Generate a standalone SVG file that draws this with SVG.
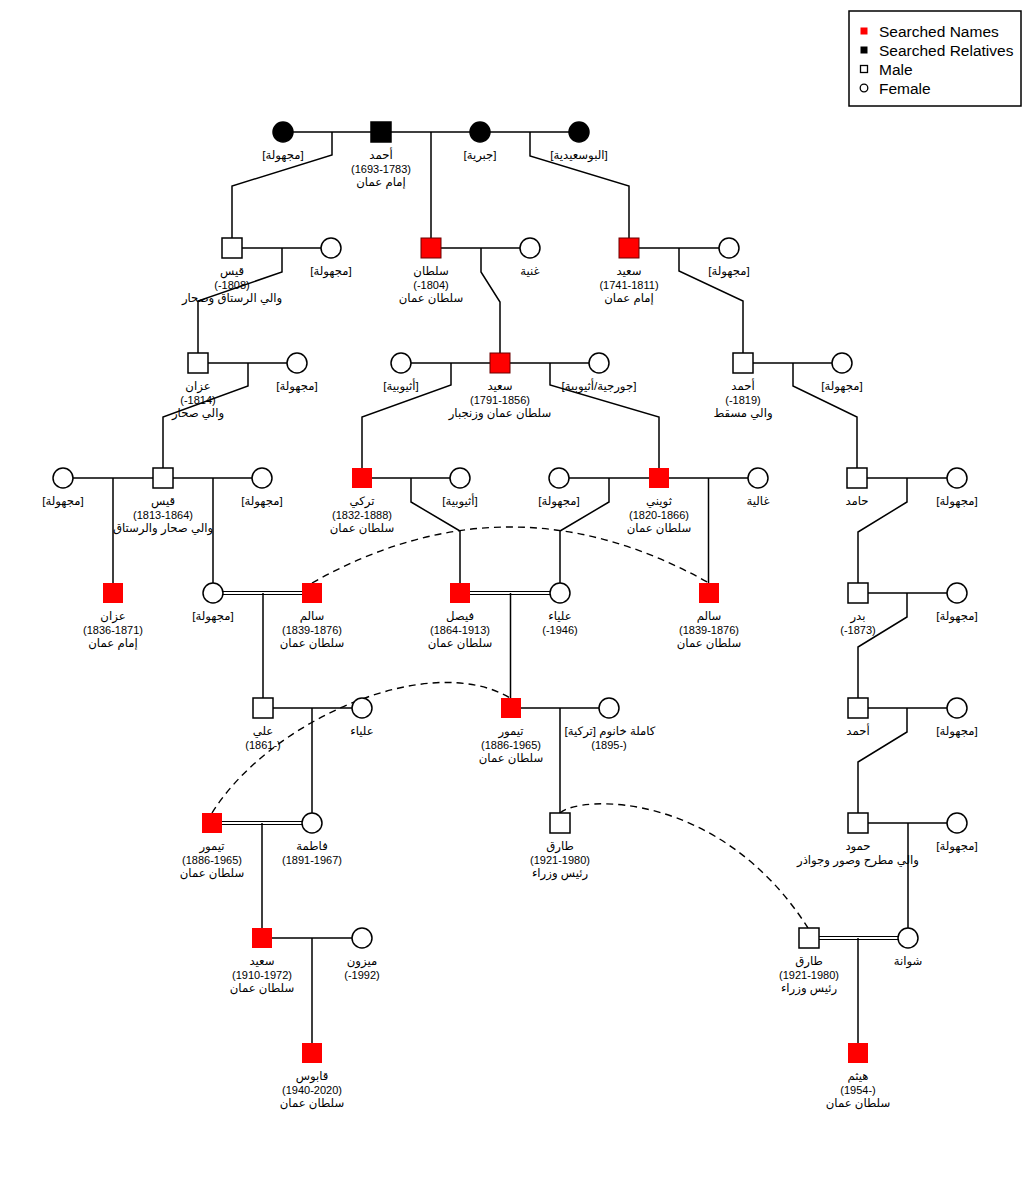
<svg xmlns="http://www.w3.org/2000/svg" width="1022" height="1200" viewBox="0 0 1022 1200">
<style>
.ln{fill:none;stroke:#000;stroke-width:1.5}
.dbl{fill:none;stroke:#000;stroke-width:1.2}
.dash{fill:none;stroke:#000;stroke-width:1.4;stroke-dasharray:7,5}
.m{fill:#fff;stroke:#000;stroke-width:1.5}
.f{fill:#fff;stroke:#000;stroke-width:1.5}
.b{fill:#000;stroke:#000;stroke-width:1.5}
.r{fill:#f00;stroke:none}
.rb{fill:#f00;stroke:#6a0000;stroke-width:1}
text{font-family:"Liberation Sans","DejaVu Sans",sans-serif;font-size:11.7px;fill:#000;text-anchor:middle}
text.d{font-size:11px}
.lg{font-size:15.5px;text-anchor:start}
</style>
<rect width="1022" height="1200" fill="#fff"/>
<g id="connectors">
<path class="ln" d="M283,132H579 M232,248H331 M431,248H530 M629,248H729 M198,363H297 M401,363H599 M743,363H842 M63,478H262 M362,478H460 M559,478H758 M857,478H957 M858,593H957 M263,708H362 M511,708H609 M858,708H957 M858,823H957 M262,938H362"/>
<path class="dbl" d="M213,591.5H312 M213,594.5H312 M460,591.5H560 M460,594.5H560 M212,821.5H312 M212,824.5H312 M809,936.5H908 M809,939.5H908"/>
<path class="ln" d="M332,132V155L232,186V238 M431,132V238 M530,132V156L629,186V238 M282,248V272L198,301V353 M481,248V272L500,302V353 M679,248V271L743,301V353 M248,363V386L163,417V468 M451,363V385L362,417V468 M550,363V385L659,417V468 M793,363V386L857,417V468 M113,478V583 M213,478V583 M411,478V502L460,531V583 M609,478V502L560,531V583 M708.5,478V583 M907,478V502L858,532V583 M263,593V698 M510.5,593V698 M907,593V617L858,647V698 M312,708V813 M560,708V813 M907,708V732L858,762V813 M262,823V928 M908,823V928 M312,938V1043 M858,938V1043"/>
<path class="dash" d="M312,583Q510,471 709,583"/>
<path class="dash" d="M212,813C270,720 430,650 510,698"/>
<path class="dash" d="M560,813C580,795 720,790 808,928"/>
</g>
<g id="n_f_majhula_1"><circle class="b" cx="283" cy="132" r="10"/><text x="283" y="159">[مجهولة]</text></g>
<g id="n_ahmad_1693"><rect class="b" x="371" y="122" width="20" height="20"/><text x="381" y="159">أحمد</text><text class="d" x="381" y="172.5">(1693-1783)</text><text x="381" y="186">إمام عمان</text></g>
<g id="n_f_jabria"><circle class="b" cx="480" cy="132" r="10"/><text x="480" y="159">[جبرية]</text></g>
<g id="n_f_busaidia"><circle class="b" cx="579" cy="132" r="10"/><text x="579" y="159">[البوسعيدية]</text></g>

<g id="n_qais_1808"><rect class="m" x="222" y="238" width="20" height="20"/><text x="232" y="275">قيس</text><text class="d" x="232" y="288.5">(-1808)</text><text x="232" y="302">والي الرستاق وصحار</text></g>
<g id="n_f_majhula_2"><circle class="f" cx="331" cy="248" r="10"/><text x="331" y="275">[مجهولة]</text></g>
<g id="n_sultan_1804"><rect class="rb" x="421" y="238" width="20" height="20"/><text x="431" y="275">سلطان</text><text class="d" x="431" y="288.5">(-1804)</text><text x="431" y="302">سلطان عمان</text></g>
<g id="n_f_ghania"><circle class="f" cx="530" cy="248" r="10"/><text x="530" y="275">غنية</text></g>
<g id="n_said_1741"><rect class="rb" x="619" y="238" width="20" height="20"/><text x="629" y="275">سعيد</text><text class="d" x="629" y="288.5">(1741-1811)</text><text x="629" y="302">إمام عمان</text></g>
<g id="n_f_majhula_3"><circle class="f" cx="729" cy="248" r="10"/><text x="729" y="275">[مجهولة]</text></g>

<g id="n_azzan_1814"><rect class="m" x="188" y="353" width="20" height="20"/><text x="198" y="390">عزان</text><text class="d" x="198" y="403.5">(-1814)</text><text x="198" y="417">والي صحار</text></g>
<g id="n_f_majhula_4"><circle class="f" cx="297" cy="363" r="10"/><text x="297" y="390">[مجهولة]</text></g>
<g id="n_f_ethiopian_1"><circle class="f" cx="401" cy="363" r="10"/><text x="401" y="390">[أثيوبية]</text></g>
<g id="n_said_1791"><rect class="rb" x="490" y="353" width="20" height="20"/><text x="500" y="390">سعيد</text><text class="d" x="500" y="403.5">(1791-1856)</text><text x="500" y="417">سلطان عمان وزنجبار</text></g>
<g id="n_f_georgian"><circle class="f" cx="599" cy="363" r="10"/><text x="599" y="390">[جورجية/أثيوبية]</text></g>
<g id="n_ahmad_1819"><rect class="m" x="733" y="353" width="20" height="20"/><text x="743" y="390">أحمد</text><text class="d" x="743" y="403.5">(-1819)</text><text x="743" y="417">والي مسقط</text></g>
<g id="n_f_majhula_5"><circle class="f" cx="842" cy="363" r="10"/><text x="842" y="390">[مجهولة]</text></g>

<g id="n_f_majhula_6"><circle class="f" cx="63" cy="478" r="10"/><text x="63" y="505">[مجهولة]</text></g>
<g id="n_qais_1813"><rect class="m" x="153" y="468" width="20" height="20"/><text x="163" y="505">قيس</text><text class="d" x="163" y="518.5">(1813-1864)</text><text x="163" y="532">والي صحار والرستاق</text></g>
<g id="n_f_majhula_7"><circle class="f" cx="262" cy="478" r="10"/><text x="262" y="505">[مجهولة]</text></g>
<g id="n_turki"><rect class="r" x="352" y="468" width="20" height="20"/><text x="362" y="505">تركي</text><text class="d" x="362" y="518.5">(1832-1888)</text><text x="362" y="532">سلطان عمان</text></g>
<g id="n_f_ethiopian_2"><circle class="f" cx="460" cy="478" r="10"/><text x="460" y="505">[أثيوبية]</text></g>
<g id="n_f_majhula_8"><circle class="f" cx="559" cy="478" r="10"/><text x="559" y="505">[مجهولة]</text></g>
<g id="n_thuwaini"><rect class="r" x="649" y="468" width="20" height="20"/><text x="659" y="505">ثويني</text><text class="d" x="659" y="518.5">(1820-1866)</text><text x="659" y="532">سلطان عمان</text></g>
<g id="n_f_ghalia"><circle class="f" cx="758" cy="478" r="10"/><text x="758" y="505">غالية</text></g>
<g id="n_hamid"><rect class="m" x="847" y="468" width="20" height="20"/><text x="857" y="505">حامد</text></g>
<g id="n_f_majhula_9"><circle class="f" cx="957" cy="478" r="10"/><text x="957" y="505">[مجهولة]</text></g>

<g id="n_azzan_1836"><rect class="r" x="103" y="583" width="20" height="20"/><text x="113" y="620">عزان</text><text class="d" x="113" y="633.5">(1836-1871)</text><text x="113" y="647">إمام عمان</text></g>
<g id="n_f_majhula_10"><circle class="f" cx="213" cy="593" r="10"/><text x="213" y="620">[مجهولة]</text></g>
<g id="n_salim_1"><rect class="r" x="302" y="583" width="20" height="20"/><text x="312" y="620">سالم</text><text class="d" x="312" y="633.5">(1839-1876)</text><text x="312" y="647">سلطان عمان</text></g>
<g id="n_faisal"><rect class="r" x="450" y="583" width="20" height="20"/><text x="460" y="620">فيصل</text><text class="d" x="460" y="633.5">(1864-1913)</text><text x="460" y="647">سلطان عمان</text></g>
<g id="n_f_alia_1946"><circle class="f" cx="560" cy="593" r="10"/><text x="560" y="620">علياء</text><text class="d" x="560" y="633.5">(-1946)</text></g>
<g id="n_salim_2"><rect class="r" x="699" y="583" width="20" height="20"/><text x="709" y="620">سالم</text><text class="d" x="709" y="633.5">(1839-1876)</text><text x="709" y="647">سلطان عمان</text></g>
<g id="n_badr"><rect class="m" x="848" y="583" width="20" height="20"/><text x="858" y="620">بدر</text><text class="d" x="858" y="633.5">(-1873)</text></g>
<g id="n_f_majhula_11"><circle class="f" cx="957" cy="593" r="10"/><text x="957" y="620">[مجهولة]</text></g>

<g id="n_ali"><rect class="m" x="253" y="698" width="20" height="20"/><text x="263" y="735">علي</text><text class="d" x="263" y="748.5">(1861-)</text></g>
<g id="n_f_alia"><circle class="f" cx="362" cy="708" r="10"/><text x="362" y="735">علياء</text></g>
<g id="n_taimur_1"><rect class="r" x="501" y="698" width="20" height="20"/><text x="511" y="735">تيمور</text><text class="d" x="511" y="748.5">(1886-1965)</text><text x="511" y="762">سلطان عمان</text></g>
<g id="n_f_kamila"><circle class="f" cx="609" cy="708" r="10"/><text x="610" y="735" direction="rtl">كاملة خانوم [تركية]</text><text class="d" x="609" y="748.5">(1895-)</text></g>
<g id="n_ahmad_3"><rect class="m" x="848" y="698" width="20" height="20"/><text x="858" y="735">أحمد</text></g>
<g id="n_f_majhula_12"><circle class="f" cx="957" cy="708" r="10"/><text x="957" y="735">[مجهولة]</text></g>

<g id="n_taimur_2"><rect class="r" x="202" y="813" width="20" height="20"/><text x="212" y="850">تيمور</text><text class="d" x="212" y="863.5">(1886-1965)</text><text x="212" y="877">سلطان عمان</text></g>
<g id="n_f_fatima"><circle class="f" cx="312" cy="823" r="10"/><text x="312" y="850">فاطمة</text><text class="d" x="312" y="863.5">(1891-1967)</text></g>
<g id="n_tariq_1"><rect class="m" x="550" y="813" width="20" height="20"/><text x="560" y="850">طارق</text><text class="d" x="560" y="863.5">(1921-1980)</text><text x="560" y="877">رئيس وزراء</text></g>
<g id="n_hamud"><rect class="m" x="848" y="813" width="20" height="20"/><text x="858" y="850">حمود</text><text x="858" y="863.5">والي مطرح وصور وجواذر</text></g>
<g id="n_f_majhula_13"><circle class="f" cx="957" cy="823" r="10"/><text x="957" y="850">[مجهولة]</text></g>

<g id="n_said_1910"><rect class="r" x="252" y="928" width="20" height="20"/><text x="262" y="965">سعيد</text><text class="d" x="262" y="978.5">(1910-1972)</text><text x="262" y="992">سلطان عمان</text></g>
<g id="n_f_mayzun"><circle class="f" cx="362" cy="938" r="10"/><text x="362" y="965">ميزون</text><text class="d" x="362" y="978.5">(-1992)</text></g>
<g id="n_tariq_2"><rect class="m" x="799" y="928" width="20" height="20"/><text x="809" y="965">طارق</text><text class="d" x="809" y="978.5">(1921-1980)</text><text x="809" y="992">رئيس وزراء</text></g>
<g id="n_f_shawana"><circle class="f" cx="908" cy="938" r="10"/><text x="908" y="965">شوانة</text></g>

<g id="n_qaboos"><rect class="r" x="302" y="1043" width="20" height="20"/><text x="312" y="1080">قابوس</text><text class="d" x="312" y="1093.5">(1940-2020)</text><text x="312" y="1107">سلطان عمان</text></g>
<g id="n_haitham"><rect class="r" x="848" y="1043" width="20" height="20"/><text x="858" y="1080">هيثم</text><text class="d" x="858" y="1093.5">(1954-)</text><text x="858" y="1107">سلطان عمان</text></g>

<g id="legend">
<rect x="849" y="11" width="172" height="95" fill="#fff" stroke="#000" stroke-width="1.5"/>
<rect x="860.5" y="27.5" width="7" height="7" fill="#f00"/>
<text class="lg" x="879" y="37">Searched Names</text>
<rect x="860.5" y="46.5" width="7" height="7" fill="#000"/>
<text class="lg" x="879" y="56">Searched Relatives</text>
<rect x="860.5" y="65.5" width="7" height="7" fill="#fff" stroke="#000" stroke-width="1.3"/>
<text class="lg" x="879" y="75">Male</text>
<circle cx="864" cy="88" r="3.8" fill="#fff" stroke="#000" stroke-width="1.3"/>
<text class="lg" x="879" y="94">Female</text>
</g>
</svg>
